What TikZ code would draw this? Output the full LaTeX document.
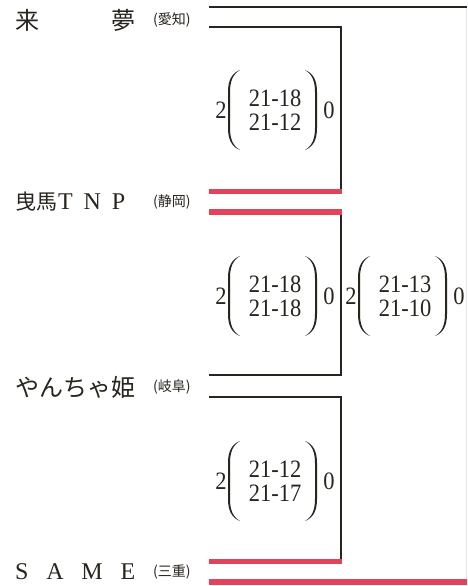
\documentclass[tikz,border=0pt]{standalone}
\usepackage{fontspec}
\setmainfont{Liberation Serif}
\newfontfamily\jp{Noto Sans CJK JP}
\definecolor{ink}{RGB}{40,36,30}
\definecolor{redline}{RGB}{226,66,90}
\tikzset{
  blk/.style={draw=ink, line width=2pt},
  redl/.style={draw=redline, line width=5.5pt},
  faint/.style={draw=ink!12, line width=1pt},
  team/.style={anchor=west, inner sep=0pt, text=ink, font=\fontsize{24}{24}\selectfont},
  pref/.style={anchor=west, inner sep=0pt, text=ink, font=\jp\fontsize{14}{14}\selectfont},
  scorebox/.style={inner sep=0pt, text=ink, align=center, font=\fontsize{25}{24}\selectfont},
  setnum/.style={inner sep=0pt, text=ink, font=\fontsize{25}{25}\selectfont},
  lpar/.pic={\fill[ink] (0,-40) .. controls (-8,-37) and (-12,-30) .. (-12,-18) -- (-12,18) .. controls (-12,30) and (-8,37) .. (0,40) .. controls (-7,36) and (-10,29) .. (-10,18) -- (-10,-18) .. controls (-10,-29) and (-7,-36) .. cycle;},
  rpar/.pic={\fill[ink] (0,-40) .. controls (8,-37) and (12,-30) .. (12,-18) -- (12,18) .. controls (12,30) and (8,37) .. (0,40) .. controls (7,36) and (10,29) .. (10,18) -- (10,-18) .. controls (10,-29) and (7,-36) .. cycle;}
}
\newcommand\matchscore[5]{%
  \node[scorebox] (#1) at (#2,#3) {\scalebox{0.9}[1]{#4}\\\scalebox{0.9}[1]{#5}};
  \node[setnum] (#1w) at (#2-54,#3) {\scalebox{0.9}[1]{2}};
  \node[setnum] (#1l) at (#2+54,#3) {\scalebox{0.9}[1]{0}};
  \pic at (#2-35,#3) {lpar};
  \pic at (#2+30,#3) {rpar};
}
\begin{document}
\begin{tikzpicture}[x=1pt,y=-1pt]
\fill[white] (0,0) rectangle (467,586);
\useasboundingbox (0,0) rectangle (467,586);

% line end points
\coordinate (a0) at (209,7);   \coordinate (a1) at (467,7);
\coordinate (b0) at (209,27);  \coordinate (b1) at (341,191);
\coordinate (c0) at (209,191.5); \coordinate (c1) at (342,191.5);
\coordinate (d0) at (209,212); \coordinate (d1) at (342,212);
\coordinate (e0) at (341,212); \coordinate (e1) at (209,375);
\coordinate (f0) at (209,397); \coordinate (f1) at (341,561);
\coordinate (g0) at (209,561.5); \coordinate (g1) at (342,561.5);
\coordinate (h0) at (209,582); \coordinate (h1) at (467,582);
\coordinate (v0) at (466,7);   \coordinate (v1) at (466,582);

\draw[faint] (v0) -- (v1);
\draw[blk] (a0) -- (a1);
\draw[blk] (b0) -| (b1);
\draw[blk] (e0) |- (e1);
\draw[blk] (f0) -| (f1);
\draw[redl] (c0) -- (c1);
\draw[redl] (d0) -- (d1);
\draw[redl] (g0) -- (g1);
\draw[redl] (h0) -- (h1);

% team names
\node[team] (t1) at (15,20) {\makebox[120pt][l]{\jp 来\hfill 夢}};
\node[team] (t2) at (15,202) {\makebox[110pt][l]{{\jp\fontsize{21}{21}\selectfont 曳馬}\hspace{1pt}T\hfill N\hfill P}};
\node[team] (t3) at (15,387) {\makebox[120pt][l]{\jp やんちゃ姫}};
\node[team] (t4) at (15,572) {\makebox[120pt][l]{S\hfill A\hfill M\hfill E}};

\node[pref] (p1) at (153,20) {(愛知)};
\node[pref] (p2) at (153,202) {(静岡)};
\node[pref] (p3) at (153,387) {(岐阜)};
\node[pref] (p4) at (153,572) {(三重)};

% scores
\matchscore{m1}{275}{110}{21-18}{21-12}
\matchscore{m2}{275}{296}{21-18}{21-18}
\matchscore{m3}{275}{481}{21-12}{21-17}
\matchscore{m4}{405}{296}{21-13}{21-10}
\end{tikzpicture}
\end{document}
